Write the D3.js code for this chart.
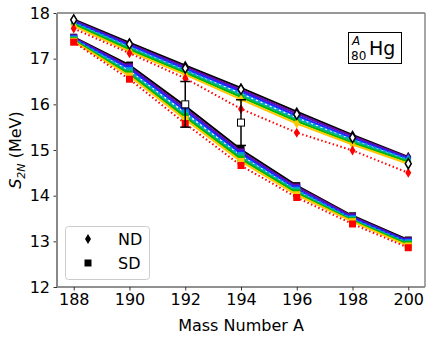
<!DOCTYPE html>
<html>
<head>
<meta charset="utf-8">
<script src="https://cdn.jsdelivr.net/npm/d3@7"></script>
<style>
  body { margin: 0; background: #fff; }
  text { font-family: "DejaVu Sans", sans-serif; fill: #000; }
</style>
</head>
<body>
<div id="container"></div>
<script>
// mass numbers
const massNumbers = [188, 190, 192, 194, 196, 198, 200]

// normal deformed (ND) minimum, one array per calculation
const ndBlack  = [17.86, 17.35, 16.85, 16.36, 15.84, 15.33, 14.85]
const ndPurple = [17.84, 17.32, 16.82, 16.32, 15.80, 15.30, 14.83]
const ndBlue   = [17.81, 17.29, 16.78, 16.28, 15.75, 15.26, 14.81]
const ndSky    = [17.79, 17.26, 16.75, 16.24, 15.71, 15.23, 14.79]
const ndTeal   = [17.77, 17.23, 16.72, 16.20, 15.67, 15.20, 14.76]
const ndGreen  = [17.75, 17.20, 16.69, 16.16, 15.63, 15.16, 14.74]
const ndYellow = [17.72, 17.16, 16.65, 16.11, 15.58, 15.12, 14.70]
const ndRed    = [17.66, 17.12, 16.57, 15.90, 15.38, 14.99, 14.50]

// superdeformed (SD) minimum
const sdBlack  = [17.47, 16.86, 15.96, 15.01, 14.22, 13.56, 13.03]
const sdPurple = [17.46, 16.82, 15.91, 14.96, 14.19, 13.54, 13.01]
const sdBlue   = [17.44, 16.78, 15.86, 14.92, 14.15, 13.51, 12.99]
const sdSky    = [17.43, 16.74, 15.81, 14.88, 14.12, 13.49, 12.97]
const sdTeal   = [17.41, 16.70, 15.76, 14.84, 14.09, 13.47, 12.95]
const sdGreen  = [17.40, 16.66, 15.72, 14.80, 14.06, 13.45, 12.93]
const sdYellow = [17.38, 16.62, 15.67, 14.75, 14.02, 13.43, 12.90]
const sdRed    = [17.36, 16.55, 15.58, 14.66, 13.96, 13.38, 12.86]

// experiment
const expND = [17.85, 17.32, 16.79, 16.33, 15.78, 15.27, 14.70]
const expSDMass = [192, 194]
const expSD = [16.0, 15.6]
const expSDErr = [0.5, 0.5]

const yTicks = [12, 13, 14, 15, 16, 17, 18]
const xTicks = massNumbers

// line styles per calculation
const styles = [
  { color: '#000000', dash: null },
  { color: '#6a0aa8', dash: null },
  { color: '#1f1fff', dash: null },
  { color: '#0096e0', dash: '3,2' },
  { color: '#00b0a0', dash: null },
  { color: '#00b800', dash: null },
  { color: '#ffc800', dash: null },
  { color: '#ff0000', dash: '1.5,2.5' }
]
const ndSeries = [ndBlack, ndPurple, ndBlue, ndSky, ndTeal, ndGreen, ndYellow, ndRed]
const sdSeries = [sdBlack, sdPurple, sdBlue, sdSky, sdTeal, sdGreen, sdYellow, sdRed]

const w = 436
const h = 339
const margin = { left: 57, right: 11, top: 13, bottom: 52 }

const x = d3.scaleLinear()
  .domain([187.4, 200.6])
  .range([margin.left, w - margin.right])

const y = d3.scaleLinear()
  .domain([12, 18])
  .range([h - margin.bottom, margin.top])

const svg = d3.select('#container')
  .append('svg')
  .attr('width', w)
  .attr('height', h)

svg.append('defs').append('clipPath').attr('id', 'clip')
  .append('rect')
  .attr('x', margin.left).attr('y', margin.top)
  .attr('width', x.range()[1] - margin.left)
  .attr('height', y.range()[0] - margin.top)

const plot = svg.append('g').attr('clip-path', 'url(#clip)')

const line = d3.line()
  .x((d, i) => x(massNumbers[i]))
  .y(d => y(d))

const diamond = (cx, cy, s) =>
  `M${cx},${cy - s}L${cx + s * 0.6},${cy}L${cx},${cy + s}L${cx - s * 0.6},${cy}Z`

//LINES + MARKERS
function drawGroup(series, marker) {
  series.forEach((vals, k) => {
    const st = styles[k]
    plot.append('path')
      .datum(vals)
      .attr('d', line)
      .attr('fill', 'none')
      .attr('stroke', st.color)
      .attr('stroke-width', 2)
      .attr('stroke-dasharray', st.dash)

    const g = plot.append('g')
    if (marker === 'diamond') {
      g.selectAll('path')
        .data(vals)
        .enter()
        .append('path')
        .attr('d', (d, i) => diamond(x(massNumbers[i]), y(d), 5))
        .attr('fill', st.color)
    } else {
      g.selectAll('rect')
        .data(vals)
        .enter()
        .append('rect')
        .attr('x', (d, i) => x(massNumbers[i]) - 3.5)
        .attr('y', d => y(d) - 3.5)
        .attr('width', 7)
        .attr('height', 7)
        .attr('fill', st.color)
    }
  })
}

drawGroup(ndSeries, 'diamond')
drawGroup(sdSeries, 'square')

//EXPERIMENT
plot.append('g')
  .selectAll('path')
  .data(expND)
  .enter()
  .append('path')
  .attr('d', (d, i) => diamond(x(massNumbers[i]), y(d), 5))
  .attr('fill', '#fff')
  .attr('stroke', '#000')
  .attr('stroke-width', 1.5)

const err = plot.append('g')
expSD.forEach((v, i) => {
  const cx = x(expSDMass[i])
  err.append('line')
    .attr('x1', cx).attr('x2', cx)
    .attr('y1', y(v + expSDErr[i])).attr('y2', y(v - expSDErr[i]))
    .attr('stroke', '#000').attr('stroke-width', 1.5)
  ;[v + expSDErr[i], v - expSDErr[i]].forEach(e => {
    err.append('line')
      .attr('x1', cx - 5).attr('x2', cx + 5)
      .attr('y1', y(e)).attr('y2', y(e))
      .attr('stroke', '#000').attr('stroke-width', 1.5)
  })
  err.append('rect')
    .attr('x', cx - 3.5).attr('y', y(v) - 3.5)
    .attr('width', 7).attr('height', 7)
    .attr('fill', '#fff')
    .attr('stroke', '#000')
    .attr('stroke-width', 1)
})

//AXES
const xAxis = d3.axisBottom(x).tickValues(xTicks).tickSize(3.5).tickPadding(3.5).tickFormat(d3.format('d'))
const yAxis = d3.axisLeft(y).tickValues(yTicks).tickSize(3.5).tickPadding(3.5).tickFormat(d3.format('d'))

const gx = svg.append('g')
  .attr('transform', `translate(0,${y.range()[0]})`)
  .call(xAxis)
const gy = svg.append('g')
  .attr('transform', `translate(${margin.left},0)`)
  .call(yAxis)

;[gx, gy].forEach(g => {
  g.select('.domain').remove()
  g.selectAll('text').attr('font-size', 16).attr('font-family', 'DejaVu Sans').attr('fill', '#000')
  g.selectAll('line').attr('stroke', '#000').attr('stroke-width', 0.8)
})

//SPINES
const x0 = x.range()[0], x1 = x.range()[1], y0 = y.range()[0], y1 = y.range()[1]
svg.append('line').attr('x1', x0).attr('x2', x1).attr('y1', y1).attr('y2', y1)
  .attr('stroke', '#333').attr('stroke-width', 1)
svg.append('line').attr('x1', x0).attr('x2', x1).attr('y1', y0).attr('y2', y0)
  .attr('stroke', '#222').attr('stroke-width', 1.2)
svg.append('line').attr('x1', x0).attr('x2', x0).attr('y1', y1).attr('y2', y0)
  .attr('stroke', '#888').attr('stroke-width', 2)
svg.append('line').attr('x1', x1).attr('x2', x1).attr('y1', y1).attr('y2', y0)
  .attr('stroke', '#888').attr('stroke-width', 1.5)

//LABELS
svg.append('text')
  .attr('x', (x0 + x1) / 2)
  .attr('y', 331)
  .attr('text-anchor', 'middle')
  .attr('font-size', 16)
  .text('Mass Number A')

const yl = svg.append('text')
  .attr('transform', `translate(21,${(y0 + y1) / 2}) rotate(-90)`)
  .attr('text-anchor', 'middle')
  .attr('font-size', 16)
yl.append('tspan').attr('font-style', 'italic').text('S')
yl.append('tspan').attr('font-style', 'italic').attr('font-size', 11).attr('dy', 4).text('2N')
yl.append('tspan').attr('dy', -4).text(' (MeV)')

//NUCLEUS LABEL
svg.append('rect')
  .attr('x', 348.5).attr('y', 32.5)
  .attr('width', 53).attr('height', 31)
  .attr('fill', '#fff').attr('stroke', '#000').attr('stroke-width', 1)
svg.append('text').attr('x', 352).attr('y', 45)
  .attr('font-size', 12).attr('font-style', 'italic').text('A')
svg.append('text').attr('x', 351).attr('y', 60)
  .attr('font-size', 12).text('80')
svg.append('text').attr('x', 369).attr('y', 55)
  .attr('font-size', 19).text('Hg')

//LEGEND
const lg = svg.append('g')
lg.append('rect')
  .attr('x', 65.5).attr('y', 226.5)
  .attr('width', 84).attr('height', 53)
  .attr('rx', 3)
  .attr('fill', '#fff').attr('fill-opacity', 0.8)
  .attr('stroke', '#ccc').attr('stroke-width', 1)
lg.append('path').attr('d', diamond(88, 239, 5)).attr('fill', '#000')
lg.append('rect').attr('x', 84.5).attr('y', 259.5).attr('width', 7).attr('height', 7).attr('fill', '#000')
lg.append('text').attr('x', 118).attr('y', 245).attr('font-size', 16).text('ND')
lg.append('text').attr('x', 118).attr('y', 269).attr('font-size', 16).text('SD')
</script>
</body>
</html>
